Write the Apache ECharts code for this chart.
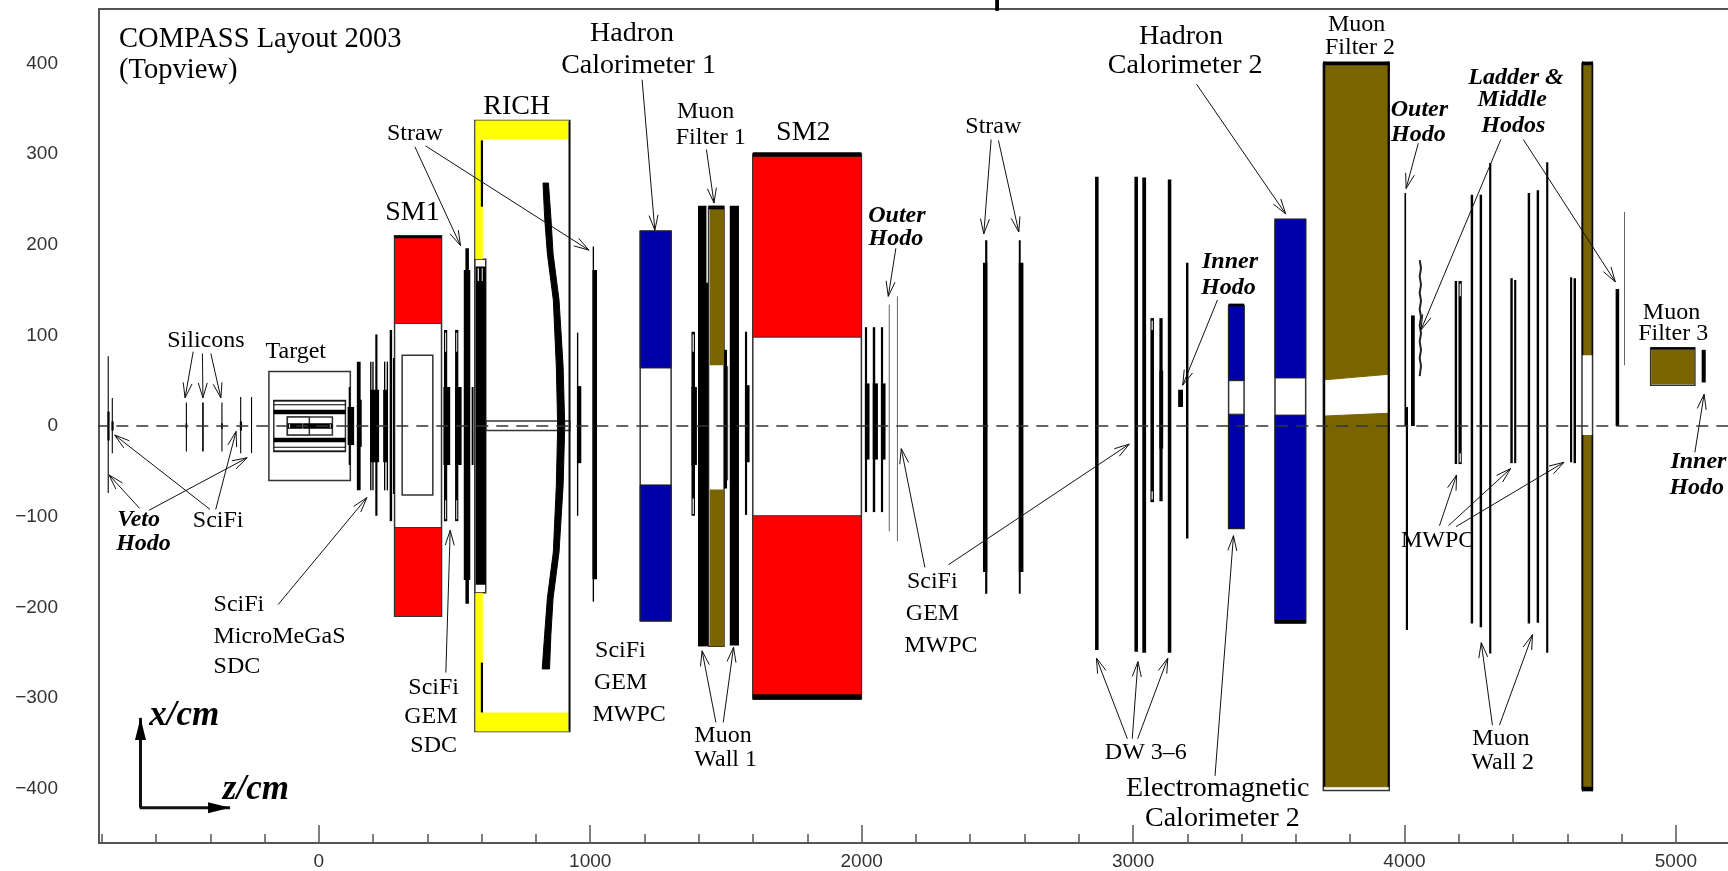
<!DOCTYPE html>
<html>
<head>
<meta charset="utf-8">
<style>html,body{margin:0;padding:0;background:#fff}#chart{width:1728px;height:871px}</style>
<script src="https://cdn.jsdelivr.net/npm/echarts@6/dist/echarts.min.js"></script>
</head>
<body>
<div id="chart"></div>
<script>
// All geometry below is [zStart, zEnd, xTop, xBottom] in cm.
const zMajorTicks = [0, 1000, 2000, 3000, 4000, 5000];
const zMinorTicks = [-800,-600,-400,-200,200,400,600,800,1200,1400,1600,1800,2200,2400,2600,2800,3200,3400,3600,3800,4200,4400,4600,4800,5200];
const xTicks = [-400,-300,-200,-100,0,100,200,300,400];

const whiteBoxes = [
  [-184,116,60,-60],[-166,98,28,-28],[-116,50,10,-10],[-116,-35,10,-10],
  [279,452,210,-210],[307,420,78,-76],[575,925,337,-337],[575,615,184,-184],
  [616,925,5.5,-5],[1184,1298,215,-215],[1436,1493,242,-243],[1599,1999,300,-301],
  [3352,3409,133,-113],[3523,3636,228,-217],[3701,3944,400,-402],[4654,4693,400,-401],
  [4907,5070,86,45]
];
const redMagnets = [[279,452,210,113],[279,452,-112,-210],[1599,1999,300,98],[1599,1999,-99,-301]];
const blueCalos = [[1184,1298,215,64],[1184,1298,-65,-215],[3352,3409,133,50],[3352,3409,13,-113],[3523,3636,228,53],[3523,3636,12,-217]];
const brownFilters = [[1440,1493,240,67],[1440,1493,-70,-243],[4658,4690,400,78],[4658,4690,-10,-401],[4909,5068,84,46]];
const yellowRich = [[577,920,337,316],[577,604,316,184],[577,604,-184,-316],[577,920,-316,-337]];

const filter2Upper = [[3706,400],[3939,400],[3939,57],[3706,51]];
const filter2Lower = [[3706,11],[3939,14],[3939,-398],[3706,-398]];
const mirrorLeftEdge = [[826,268],[832,230],[842,190],[864,139],[875,66],[880,0],[875,-66],[864,-139],[842,-190],[832,-230],[823,-268]];
const mirrorRightEdge = [[850,-268],[855,-230],[863,-190],[885,-139],[900,-66],[906,0],[900,66],[885,139],[863,190],[855,230],[846,268]];
const ladderWiggle = [[4056,183],[4061,174],[4056,165],[4061,156],[4056,147],[4061,138],[4056,129],[4061,120],[4056,111],[4061,102],[4056,93],[4061,84],[4056,75],[4061,66],[4056,55]];

const blackPlanes = [
  [-778,-774,77,-74],[-779,-771,16,-16],[-763,-759,31,-30],[-764,-756,5,-5],
  [-490,-486,26,-28],[-491,-485,3,-3],[-430,-424,26,-28],[-359,-355,26,-28],[-360,-354,3,-3],
  [-290,-286,32,-30],[-291,-283,5,-5],[-250,-246,32,-30],
  [-166,99,28,27],[-166,99,24,23],[-166,99,18,13],[-166,99,-13,-18],[-166,99,-23,-24],[-166,99,-27,-28],
  [-116,50,3,-3],
  [110,116,43,-43],[106,130,21,-21],[140,154,71,-71],[146,158,29,-23],
  [189,194,71,-71],[197,202,71,-71],[189,222,40,-40],[208,216,101,-99],
  [240,245,71,-71],[250,255,71,-71],[237,253,40,-40],[261,270,106,-105],[273,279,75,-75],
  [279,452,210,207],[461,473,106,-105],[459,484,43,-43],[502,514,106,-105],[502,526,43,-43],
  [540,553,196,-196],[534,558,172,-170],[563,570,43,-43],[578,615,176,-175],
  [597,605,315,242],[597,605,-261,-316],[920,925,336,-336],
  [951,956,103,-99],[951,967,44,-41],[1009,1014,198,-194],[1008,1025,172,-169],
  [1373,1386,104,-99],[1373,1393,43,-43],[1397,1428,243,-243],[1397,1435,158,-243],
  [1436,1493,243,239],[1493,1504,84,-69],[1514,1548,243,-242],[1570,1578,104,-98],[1570,1587,45,-40],
  [1599,1999,302,297],[1599,1999,-296,-302],
  [2012,2020,109,-95],[2041,2050,109,-95],[2071,2079,109,-95],[2012,2029,47,-37],[2041,2060,47,-37],[2071,2088,47,-37],
  [2455,2463,205,-185],[2447,2463,180,-161],[2579,2586,205,-185],[2579,2596,180,-161],
  [2860,2873,275,-247],[3005,3018,275,-249],[3034,3048,274,-250],[3128,3141,272,-250],
  [3064,3077,119,-84],[3097,3109,119,-83],[3097,3111,61,-25],[3195,3204,180,-124],[3166,3184,40,21],
  [3352,3409,135,132],[3523,3636,-214,-218],
  [3701,3708,402,-398],[3938,3945,402,-398],[3701,3945,402,398],
  [4000,4006,257,0],[4005,4013,21,-225],[4024,4038,122,0],
  [4185,4194,160,-42],[4199,4211,160,-42],[4244,4253,255,-218],[4277,4286,255,-222],[4312,4320,290,-251],
  [4390,4399,163,-41],[4404,4412,161,-41],[4454,4463,257,-218],[4487,4496,260,-217],[4522,4530,291,-250],
  [4610,4618,164,-40],[4623,4632,163,-41],
  [4654,4659,402,78],[4689,4694,402,78],[4654,4659,-10,-403],[4689,4694,-10,-403],[4654,4694,-398,-403],[4654,4694,402,398],
  [4778,4791,151,0],[5095,5110,84,48],
  [4907,5070,87,84],
  [2492,2506,472,458]
];
const whiteCores = [
  [465,469,103,82],[465,469,-82,-103],[506,510,103,82],[506,510,-82,-103],
  [1377,1382,101,82],[1377,1382,-80,-97],[3068,3073,116,106],[3068,3073,-72,-81],
  [4203,4208,157,143],[4203,4208,-30,-40],[585,590,174,160],[600,604,174,160],
  [-60,-58,4,-4],[-110,-106,2,-2],[40,44,2,-2]
];
const thinPlanes = [[2100,2103,134,-116],[2130,2133,143,-127],[4809,4812,236,67],[1503,1508,66,-60]];

const arrowLines = [
  [-660,-91,-773,-54],[-401,-92,-752,-10],[-626,-93,-264,-35],[-380,-92,-305,-6],
  [-463,82,-493,31],[-429,80,-427,31],[-398,80,-361,31],
  [354,308,522,199],[393,309,995,194],[-150,-197,177,-79],[468,-272,484,-115],
  [1191,382,1238,216],[1428,305,1456,246],[1463,-327,1412,-248],[1490,-327,1528,-244],
  [2233,-156,2146,-25],[2126,196,2098,143],[2477,316,2450,212],[2504,315,2579,214],
  [2320,-153,2986,-20],[3234,377,3562,234],[3311,139,3183,45],
  [2979,-345,2865,-256],[2997,-345,3018,-260],[3017,-345,3128,-256],[3302,-386,3370,-121],
  [4051,312,4006,262],[4355,316,4061,106],[4438,316,4777,159],
  [4129,-110,4192,-54],[4162,-110,4391,-47],[4190,-111,4588,-40],
  [4324,-330,4283,-239],[4350,-330,4472,-230],[5070,-29,5104,35]
];
const axisArrows = [[-657,-421,-657,-322],[-660,-421,-327,-421]];

const titleLabels = [[-736,426,'COMPASS Layout 2003'],[-736,392,'(Topview)']];
const largeLabels = [
  [729,352,'RICH'],[345,235,'SM1'],[1154,433,'Hadron'],[1178,398,'Calorimeter 1'],[1785,324,'SM2'],
  [3177,430,'Hadron'],[3192,397,'Calorimeter 2'],[3312,-400,'Electromagnetic'],[3329,-433,'Calorimeter 2']
];
const smallLabels = [
  [354,322,'Straw'],[-416,94,'Silicons'],[-85,82,'Target'],[1425,347,'Muon'],[1444,318,'Filter 1'],
  [2485,330,'Straw'],[3824,443,'Muon'],[3836,417,'Filter 2'],[4984,125,'Muon'],[4990,102,'Filter 3'],
  [-371,-104,'SciFi'],[423,-289,'SciFi'],[413,-321,'GEM'],[423,-353,'SDC'],
  [1111,-248,'SciFi'],[1112,-283,'GEM'],[1143,-318,'MWPC'],[1489,-342,'Muon'],[1499,-368,'Wall 1'],
  [2260,-172,'SciFi'],[2261,-207,'GEM'],[2292,-242,'MWPC'],[3047,-360,'DW 3\u20136'],
  [4122,-127,'MWPC'],[4355,-345,'Muon'],[4362,-371,'Wall 2']
];
const leftLabels = [[-388,-197,'SciFi'],[-388,-232,'MicroMeGaS'],[-388,-266,'SDC']];
const hodoLabels = [
  [2130,232,'Outer'],[2126,207,'Hodo'],[3357,181,'Inner'],[3351,152,'Hodo'],
  [4055,349,'Outer'],[4051,321,'Hodo'],[4411,384,'Ladder &'],[4397,360,'Middle'],[4401,331,'Hodos'],
  [5083,-40,'Inner'],[5077,-68,'Hodo'],[-664,-104,'Veto'],[-646,-130,'Hodo']
];
const axisNames = [[-496,-320,'x/cm'],[-232,-401,'z/cm']];
const beamLine = [[-820,0],[5400,0]];

function rects(list, fill, stroke, lw) {
  return {
    type: 'custom', coordinateSystem: 'cartesian2d', silent: true, clip: false,
    data: list.map((d, i) => [i]),
    renderItem(params, api) {
      const d = list[params.dataIndex];
      const a = api.coord([d[0], d[2]]), b = api.coord([d[1], d[3]]);
      return { type: 'rect', shape: { x: a[0], y: a[1], width: b[0] - a[0], height: b[1] - a[1] },
        style: { fill: fill, stroke: stroke || null, lineWidth: lw || 0 } };
    }
  };
}
function polys(lists, fill) {
  return {
    type: 'custom', coordinateSystem: 'cartesian2d', silent: true, clip: false,
    data: lists.map((d, i) => [i]),
    renderItem(params, api) {
      return { type: 'polygon', shape: { points: lists[params.dataIndex].map(p => api.coord(p)) }, style: { fill: fill, stroke: fill, lineWidth: 1 } };
    }
  };
}
function arrows(list, lw, filled, len, half) {
  return {
    type: 'custom', coordinateSystem: 'cartesian2d', silent: true, clip: false,
    data: list.map((d, i) => [i]),
    renderItem(params, api) {
      const d = list[params.dataIndex];
      const t = api.coord([d[0], d[1]]), h = api.coord([d[2], d[3]]);
      const L = Math.hypot(h[0] - t[0], h[1] - t[1]);
      const ux = (h[0] - t[0]) / L, uy = (h[1] - t[1]) / L;
      const b1 = [h[0] - ux * len - uy * half, h[1] - uy * len + ux * half];
      const b2 = [h[0] - ux * len + uy * half, h[1] - uy * len - ux * half];
      const children = [{ type: 'line', shape: { x1: t[0], y1: t[1], x2: h[0], y2: h[1] }, style: { stroke: '#111', lineWidth: lw } }];
      if (filled) children.push({ type: 'polygon', shape: { points: [h, b1, b2] }, style: { fill: '#000' } });
      else children.push({ type: 'polyline', shape: { points: [b1, h, b2] }, style: { stroke: '#111', lineWidth: lw, fill: null } });
      return { type: 'group', children: children };
    }
  };
}
function texts(list, font, align) {
  return {
    type: 'custom', coordinateSystem: 'cartesian2d', silent: true, clip: false,
    data: list.map((d, i) => [i]),
    renderItem(params, api) {
      const d = list[params.dataIndex];
      const p = api.coord([d[0], d[1]]);
      return { type: 'text', x: p[0], y: p[1], style: { text: d[2], font: font, fill: '#000', align: align || 'center', verticalAlign: 'middle' } };
    }
  };
}
const SERIF = '"Liberation Serif", serif';
const tickFont = { fontFamily: '"Liberation Sans", sans-serif', fontSize: 19, color: '#333' };
const xRange = { min: -810, max: 5300 };

const chart = echarts.init(document.getElementById('chart'), null, { renderer: 'canvas' });
chart.setOption({
  animation: false,
  backgroundColor: '#fff',
  tooltip: { show: false },
  grid: { left: 99, top: 9, width: 1658.3, height: 834, outerBoundsMode: 'none', containLabel: false, show: true, borderColor: '#555', borderWidth: 2, backgroundColor: '#fff' },
  xAxis: [
    Object.assign({ type: 'value', position: 'bottom', splitLine: { show: false },
      axisLine: { show: true, onZero: false, lineStyle: { color: '#555', width: 2 } },
      axisTick: { show: true, inside: true, length: 18, customValues: zMajorTicks, lineStyle: { color: '#555', width: 1.5 } },
      axisLabel: { show: true, customValues: zMajorTicks, margin: 9, formatter: v => String(v), ...tickFont } }, xRange),
    Object.assign({ type: 'value', position: 'bottom', splitLine: { show: false }, axisLine: { show: false, onZero: false },
      axisTick: { show: true, inside: true, length: 9, customValues: zMinorTicks, lineStyle: { color: '#555', width: 1.5 } },
      axisLabel: { show: false } }, xRange)
  ],
  yAxis: {
    type: 'value', min: -460, max: 460, splitLine: { show: false },
    axisLine: { show: true, onZero: false, lineStyle: { color: '#555', width: 2 } }, axisTick: { show: false },
    axisLabel: { show: true, customValues: xTicks, margin: 41, formatter: v => (v < 0 ? '\u2212' + (-v) : String(v)), ...tickFont }
  },
  series: [
    rects(whiteBoxes, '#fff', '#333', 1.5),
    rects(redMagnets, '#ff0000', '#333', 1),
    rects(blueCalos, '#0000aa', '#222', 1),
    rects(brownFilters, '#7a6400', null, 0),
    polys([filter2Upper, filter2Lower], '#7a6400'),
    rects(yellowRich, '#ffff00', null, 0),
    rects(blackPlanes, '#000'),
    polys([mirrorLeftEdge.concat(mirrorRightEdge)], '#000'),
    rects(thinPlanes, '#444'),
    rects(whiteCores, '#ddd'),
    {
      type: 'line', data: ladderWiggle, showSymbol: false, silent: true, clip: false,
      lineStyle: { color: '#222', width: 2 }, z: 2
    },
    {
      type: 'line', data: beamLine, showSymbol: false, silent: true, clip: false,
      lineStyle: { color: '#333', width: 1.5, type: [12, 8] }, z: 3
    },
    Object.assign(arrows(arrowLines, 1, false, 15, 4.5), { z: 3 }),
    Object.assign(arrows(axisArrows, 3, true, 22, 5.5), { z: 3 }),
    Object.assign(texts(titleLabels, '28.5px ' + SERIF, 'left'), { z: 4 }),
    Object.assign(texts(largeLabels, '28px ' + SERIF), { z: 4 }),
    Object.assign(texts(smallLabels, '24px ' + SERIF), { z: 4 }),
    Object.assign(texts(leftLabels, '24px ' + SERIF, 'left'), { z: 4 }),
    Object.assign(texts(hodoLabels, 'italic bold 24px ' + SERIF), { z: 4 }),
    Object.assign(texts(axisNames, 'italic bold 35px ' + SERIF), { z: 4 })
  ]
});
</script>
</body>
</html>
